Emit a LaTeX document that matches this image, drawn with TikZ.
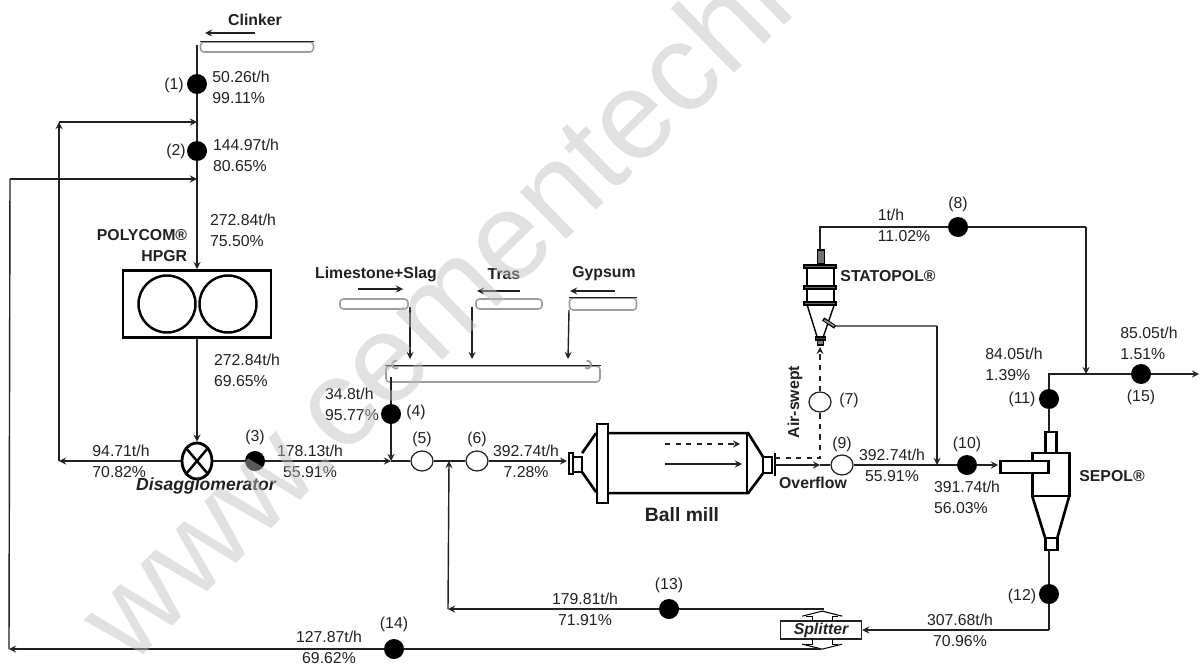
\documentclass[tikz,border=0pt]{standalone}
\usepackage{fontspec}
\setmainfont{Liberation Sans}
\usetikzlibrary{arrows, positioning, shapes.geometric}
\definecolor{inkgray}{rgb}{0.13, 0.13, 0.13}
\definecolor{beltgray}{rgb}{0.62, 0.62, 0.62}
\tikzstyle{flowval} = [align=left, inner sep=0pt, font=\fontsize{9}{12}\selectfont]
\tikzstyle{tagnum} = [inner sep=0pt, font=\fontsize{9}{12}\selectfont]
\tikzstyle{titletext} = [align=right, inner sep=0pt, font=\bfseries\fontsize{9}{12}\selectfont]
\tikzstyle{marker} = [circle, fill=black, inner sep=0pt, minimum size=0.4cm]
\tikzstyle{valve} = [ellipse, draw=inkgray, fill=white, line width=0.7pt, inner sep=0pt, minimum width=0.44cm, minimum height=0.4cm]
\tikzstyle{roll} = [circle, draw=black, line width=1.4pt, inner sep=0pt, minimum size=1.14cm]
\tikzstyle{belt} = [rectangle, rounded corners=2pt, draw=beltgray, fill=white, line width=0.9pt, inner sep=0pt, minimum height=0.2cm]
\tikzstyle{pipe} = [line width=0.8pt, draw=inkgray]
\tikzstyle{arrow} = [line width=0.8pt, draw=inkgray, ->, >=stealth]
\tikzstyle{equip} = [line width=1.5pt, draw=black]
\tikzstyle{pix} = [x=0.02cm, y=-0.02cm]
\tikzstyle{anchorpt} = [coordinate]

\begin{document}
\begin{tikzpicture}[node distance=1cm, every node/.style={text=inkgray}]

\path[use as bounding box, clip] (0,0) rectangle (24,-13.28);

\node (m1) [marker] at (3.94,-1.68) {};
\node (lineTop) [anchorpt, above of=m1, yshift=-0.22cm] {};
\node (tag1) [tagnum, left of=m1, xshift=0.54cm, yshift=-0.02cm] {(1)};
\node (val1) [flowval, right of=m1, xshift=-0.12cm, yshift=-0.06cm] {50.26t/h\\99.11\%};

\node (beltClinker) [belt, right of=m1, xshift=0.2cm, yshift=0.74cm, minimum width=2.26cm] {};
\draw[pipe] (beltClinker.north west) -- (beltClinker.north east);
\node (clinker) [titletext, above of=beltClinker, xshift=-0.04cm, yshift=-0.46cm] {Clinker};
\node (clinkerA) [anchorpt, below of=clinker, yshift=0.74cm] {};
\node (clinkerB) [anchorpt, left of=clinkerA] {};
\draw[arrow] (clinkerA) -- (clinkerB);

\node (m2) [marker, below of=m1, yshift=-0.34cm] {};
\node (junc1) [anchorpt, below of=m1, yshift=0.24cm] {};
\node (junc2) [anchorpt, below of=m2, yshift=0.44cm] {};
\node (tag2) [tagnum, left of=m2, xshift=0.58cm] {(2)};
\node (val2) [flowval, right of=m2, xshift=-0.02cm, yshift=-0.08cm] {144.97t/h\\80.65\%};

\node (hpgr) [rectangle, draw=black, line width=1.6pt, below of=m2, yshift=-2.06cm, minimum width=2.96cm, minimum height=1.34cm] {};
\node (rollA) [roll, left of=hpgr, xshift=0.4cm] {};
\node (rollB) [roll, right of=hpgr, xshift=-0.38cm] {};
\node (polycom) [titletext, left of=hpgr, xshift=-0.1cm, yshift=1.16cm] {POLYCOM®\\HPGR};
\node (val272a) [flowval, right of=hpgr, xshift=-0.08cm, yshift=1.48cm] {272.84t/h\\75.50\%};
\node (val272b) [flowval, right of=hpgr, yshift=-1.32cm] {272.84t/h\\69.65\%};

\draw[pipe] (lineTop) -- (m1);
\draw[pipe] (m1) -- (m2);
\draw[arrow] (m2) -- (hpgr);

\node (disagg) [ellipse, draw=black, line width=1.6pt, inner sep=0pt, below of=hpgr, yshift=-2.14cm, minimum width=0.6cm, minimum height=0.72cm] {};
\draw[line width=1.4pt] (disagg.north west) -- (disagg.south east);
\draw[line width=1.4pt] (disagg.north east) -- (disagg.south west);
\node (disaggtext) [titletext, font=\bfseries\itshape\fontsize{10}{12}\selectfont, below of=disagg, xshift=0.18cm, yshift=0.5cm] {Disagglomerator};
\draw[arrow] (hpgr) -- (disagg);

\node (recA) [anchorpt, left of=disagg, xshift=-1.76cm] {};
\node (recB) [anchorpt, left of=junc1, xshift=-1.76cm] {};
\node (val94) [flowval, left of=disagg, xshift=-0.52cm] {94.71t/h\\70.82\%};
\draw[arrow] (disagg) -- (recA);
\draw[arrow] (recA) -- (recB);
\draw[arrow] (recB) -- (junc1);

\node (m3) [marker, right of=disagg, xshift=0.16cm] {};
\node (tag3) [tagnum, above of=m3, yshift=-0.52cm] {(3)};
\node (val178) [flowval, align=center, right of=m3, xshift=0.1cm] {178.13t/h\\55.91\%};
\node (junc3) [anchorpt, right of=m3, xshift=1.72cm] {};
\draw[pipe] (disagg) -- (m3);
\draw[arrow] (m3) -- (junc3);

\node (m4) [marker, above of=junc3, yshift=-0.06cm] {};
\node (beltOut) [anchorpt, above of=m4, yshift=-0.26cm] {};
\node (tag4) [tagnum, right of=m4, xshift=-0.5cm, yshift=0.04cm] {(4)};
\node (val34) [flowval, left of=m4, xshift=0.22cm, yshift=0.2cm] {34.8t/h\\95.77\%};

\node (beltMain) [belt, right of=m4, xshift=1.04cm, yshift=0.8cm, minimum width=4.28cm, minimum height=0.32cm] {};
\draw[pipe] (beltMain.north west) -- (beltMain.north east);
\draw[pipe] (beltOut) -- (m4);
\draw[arrow] (m4) -- (junc3);
\node (beltLime) [belt, left of=beltMain, xshift=-1.38cm, yshift=1.4cm, minimum width=1.36cm] {};
\node (beltTras) [belt, right of=beltMain, xshift=-0.68cm, yshift=1.4cm, minimum width=1.32cm] {};
\node (beltGyp) [belt, right of=beltMain, xshift=1.2cm, yshift=1.4cm, minimum width=1.34cm, minimum height=0.24cm] {};
\draw[pipe] (beltGyp.north west) -- (beltGyp.north east);

\node (lime) [titletext, above of=beltLime, xshift=0.04cm, yshift=-0.4cm] {Limestone+Slag};
\node (tras) [titletext, above of=beltTras, xshift=-0.1cm, yshift=-0.4cm] {Tras};
\node (gypsum) [titletext, above of=beltGyp, xshift=0.02cm, yshift=-0.4cm] {Gypsum};

\node (limeA) [anchorpt, below of=lime, xshift=-0.36cm, yshift=0.7cm] {};
\node (limeB) [anchorpt, right of=limeA, xshift=-0.1cm] {};
\node (trasA) [anchorpt, below of=tras, xshift=0.32cm, yshift=0.66cm] {};
\node (trasB) [anchorpt, left of=trasA, xshift=0.14cm] {};
\node (gypA) [anchorpt, below of=gypsum, xshift=0.22cm, yshift=0.66cm] {};
\node (gypB) [anchorpt, left of=gypA, xshift=0.1cm] {};
\draw[arrow] (limeA) -- (limeB);
\draw[arrow] (trasA) -- (trasB);
\draw[arrow] (gypA) -- (gypB);

\node (limeOut) [anchorpt, right of=beltLime, xshift=-0.28cm, yshift=-0.06cm] {};
\node (limeIn) [anchorpt, below of=limeOut, yshift=-0.04cm] {};
\node (trasOut) [anchorpt, left of=beltTras, xshift=0.26cm, yshift=-0.06cm] {};
\node (trasIn) [anchorpt, below of=trasOut, yshift=-0.04cm] {};
\node (gypOut) [anchorpt, left of=beltGyp, xshift=0.32cm, yshift=-0.12cm] {};
\node (gypIn) [anchorpt, below of=gypOut, xshift=-0.02cm, yshift=0.02cm] {};
\draw[arrow] (limeOut) -- (limeIn);
\draw[arrow] (trasOut) -- (trasIn);
\draw[arrow] (gypOut) -- (gypIn);

\node (v5) [valve, right of=junc3, xshift=-0.38cm] {};
\node (tag5) [tagnum, above of=v5, yshift=-0.56cm] {(5)};
\node (v6) [valve, right of=v5, xshift=0.1cm] {};
\node (tag6) [tagnum, above of=v6, yshift=-0.56cm] {(6)};
\node (junc4) [anchorpt, right of=v5, xshift=-0.46cm] {};
\node (val392a) [flowval, align=center, right of=v6, xshift=-0.02cm] {392.74t/h\\7.28\%};
\node (millIn) [anchorpt, right of=v6, xshift=0.8cm] {};
\draw[pipe] (junc3) -- (v5);
\draw[pipe] (v5) -- (v6);
\draw[arrow] (v6) -- (millIn);

\begin{scope}[pix]
\draw[equip, fill=white] (569,453) rectangle (573,474);
\draw[equip] (573,457) rectangle (582,472);
\draw[equip] (582,453) -- (596,433);
\draw[equip] (582,472) -- (596,492);
\draw[equip, fill=white] (597,424) rectangle (608,503);
\draw[equip] (608,433) -- (748,433) -- (763,457);
\draw[equip] (608,493) -- (748,493) -- (763,473);
\draw[line width=1pt] (747,433) -- (747,493);
\draw[equip] (763,457) rectangle (772,473);
\draw[equip] (775,453) -- (775,476);
\end{scope}

\node (millDashA) [anchorpt, right of=millIn, xshift=0.96cm, yshift=0.34cm] {};
\node (millDashB) [anchorpt, right of=millDashA, xshift=0.5cm] {};
\draw[arrow, dashed] (millDashA) -- (millDashB);
\node (millFlowA) [anchorpt, right of=millIn, xshift=0.96cm, yshift=-0.06cm] {};
\node (millFlowB) [anchorpt, right of=millFlowA, xshift=0.54cm] {};
\draw[arrow] (millFlowA) -- (millFlowB);
\node (ballmill) [titletext, font=\bfseries\fontsize{11}{13}\selectfont, right of=millIn, xshift=1.3cm, yshift=-1.08cm] {Ball mill};

\node (millOut) [anchorpt, right of=millIn, xshift=3.16cm, yshift=-0.08cm] {};
\node (junc9) [anchorpt, right of=millOut, xshift=-0.1cm] {};
\node (v9) [valve, right of=junc9, xshift=-0.56cm] {};
\node (tag9) [tagnum, above of=v9, yshift=-0.58cm] {(9)};
\node (val392b) [flowval, align=center, right of=v9] {392.74t/h\\55.91\%};
\node (m10) [marker, right of=v9, xshift=1.5cm] {};
\node (tag10) [tagnum, above of=m10, yshift=-0.58cm] {(10)};
\node (val391) [flowval, below of=m10, yshift=0.36cm] {391.74t/h\\56.03\%};
\node (junc10) [anchorpt, left of=m10, xshift=0.4cm] {};
\node (sepIn) [anchorpt, right of=m10, xshift=-0.38cm] {};
\node (overflow) [titletext, below of=junc9, xshift=-0.14cm, yshift=0.64cm] {Overflow};
\draw[arrow] (millOut) -- (junc9);
\draw[pipe] (junc9) -- (v9);
\draw[pipe] (v9) -- (m10);
\draw[arrow] (m10) -- (sepIn);

\node (v7) [valve, above of=junc9, yshift=0.26cm] {};
\node (tag7) [tagnum, right of=v7, xshift=-0.42cm, yshift=0.04cm] {(7)};
\node (airsweptPos) [anchorpt, left of=v7, xshift=0.5cm] {};
\node (airswept) [titletext, rotate=90] at (airsweptPos) {Air-swept};
\node (dashA) [anchorpt, above of=millOut, yshift=-0.86cm] {};
\node (dashB) [anchorpt, right of=dashA, xshift=-0.1cm] {};
\node (statIn) [anchorpt, above of=v7, yshift=0.1cm] {};
\draw[pipe, dashed] (dashA) -- (dashB) -- (v7);
\draw[arrow, dashed] (v7) -- (statIn);

\begin{scope}[pix]
\draw[line width=0.7pt, fill=black!55] (817,250) rectangle (824,264);
\draw[line width=0.8pt] (807,266) -- (807,304);
\draw[line width=0.8pt] (834,266) -- (834,304);
\draw[line width=0.8pt, fill=black!60] (804,265) rectangle (836,268);
\draw[line width=0.8pt, fill=black!60] (804,286) rectangle (836,289);
\draw[line width=0.8pt, fill=black!60] (804,302) rectangle (836,305);
\draw[line width=0.8pt] (807,305) -- (817,337);
\draw[line width=0.8pt] (834,305) -- (823,337);
\draw[line width=0.7pt, fill=black!70] (815,337) rectangle (825,340);
\draw[line width=0.7pt, fill=black!50] (817,340) rectangle (823,345);
\draw[line width=2.2pt] (823,319) -- (835,327);
\draw[line width=1pt, black!45] (824,320) -- (834,326);
\end{scope}

\node (statOut) [anchorpt, above of=statIn, yshift=0.94cm] {};
\node (statSide) [anchorpt, right of=statIn, xshift=-0.7cm, yshift=0.42cm] {};
\node (sideCorner) [anchorpt, above of=junc10, yshift=1.78cm] {};
\node (statopol) [titletext, right of=statOut, xshift=0.36cm, yshift=-0.52cm] {STATOPOL®};
\draw[pipe] (statSide) -- (sideCorner);
\draw[arrow] (sideCorner) -- (junc10);

\node (statCorner) [anchorpt, above of=statOut, yshift=-0.54cm] {};
\node (m8) [marker, right of=statCorner, xshift=1.76cm] {};
\node (tag8) [tagnum, above of=m8, yshift=-0.54cm] {(8)};
\node (val1t) [flowval, left of=m8, xshift=-0.08cm, yshift=0.04cm] {1t/h\\11.02\%};
\node (corner8) [anchorpt, right of=m8, xshift=1.56cm] {};
\node (junc15) [anchorpt, below of=corner8, yshift=-1.94cm] {};
\draw[pipe] (statOut) -- (statCorner) -- (m8);
\draw[pipe] (m8) -- (corner8);
\draw[arrow] (corner8) -- (junc15);

\node (m15) [marker, right of=junc15, xshift=0.1cm] {};
\node (tag15) [tagnum, below of=m15, yshift=0.54cm] {(15)};
\node (val85) [flowval, above of=m15, xshift=0.16cm, yshift=-0.38cm] {85.05t/h\\1.51\%};
\node (outEnd) [anchorpt, right of=m15, xshift=0.16cm] {};
\node (corner11) [anchorpt, left of=junc15, xshift=0.26cm] {};
\node (m11) [marker, below of=corner11, yshift=0.5cm] {};
\node (tag11) [tagnum, left of=m11, xshift=0.46cm] {(11)};
\node (val84) [flowval, left of=corner11, xshift=0.3cm, yshift=0.2cm] {84.05t/h\\1.39\%};
\node (sepTop) [anchorpt, below of=m11, yshift=0.34cm] {};
\draw[pipe] (sepTop) -- (m11);
\draw[pipe] (m11) -- (corner11) -- (m15);
\draw[arrow] (m15) -- (outEnd);

\begin{scope}[pix]
\draw[equip] (1045,432) rectangle (1056,453);
\draw[equip, fill=white] (1032,453) rectangle (1069,496);
\draw[equip, fill=white] (1000,461) rectangle (1048,473);
\draw[equip] (1032,496) -- (1045,538);
\draw[equip] (1069,496) -- (1057,538);
\draw[equip] (1045,538) rectangle (1057,550);
\end{scope}

\node (sepol) [titletext, right of=sepTop, xshift=0.26cm, yshift=-0.88cm] {SEPOL®};
\node (sepBot) [anchorpt, below of=sepTop, yshift=-1.36cm] {};
\node (m12) [marker, below of=sepBot, yshift=0.12cm] {};
\node (tag12) [tagnum, left of=m12, xshift=0.46cm, yshift=-0.04cm] {(12)};
\node (corner12) [anchorpt, below of=m12, yshift=0.28cm] {};
\node (splitter) [rectangle, draw=inkgray, line width=0.8pt, inner sep=0pt, left of=corner12, xshift=-3.56cm, minimum width=1.62cm, minimum height=0.36cm, font=\bfseries\itshape\fontsize{9}{12}\selectfont] {Splitter};
\node (val307) [flowval, align=center, left of=corner12, xshift=-0.78cm] {307.68t/h\\70.96\%};
\draw[pipe] (sepBot) -- (m12);
\draw[pipe] (m12) -- (corner12);
\draw[arrow] (corner12) -- (splitter);

\begin{scope}[pix]
\draw[line width=0.6pt] (802,616) -- (822,611) -- (842,616);
\draw[line width=0.6pt] (806,616) -- (812,616) -- (812,621);
\draw[line width=0.6pt] (838,616) -- (832,616) -- (832,621);
\draw[line width=0.6pt] (802,644) -- (822,649) -- (842,644);
\draw[line width=0.6pt] (806,644) -- (812,644) -- (812,639);
\draw[line width=0.6pt] (838,644) -- (832,644) -- (832,639);
\end{scope}

\node (splitTop) [anchorpt, above of=splitter, xshift=0.06cm, yshift=-0.58cm] {};
\node (m13) [marker, left of=splitTop, xshift=-2.1cm] {};
\node (tag13) [tagnum, above of=m13, yshift=-0.52cm] {(13)};
\node (val179) [flowval, align=center, left of=m13, xshift=-0.68cm] {179.81t/h\\71.91\%};
\node (recUp) [anchorpt, left of=m13, xshift=-3.42cm] {};
\draw[pipe] (splitTop) -- (m13);
\draw[arrow] (m13) -- (recUp);
\draw[arrow] (recUp) -- (junc4);

\node (splitBot) [anchorpt, below of=splitter, yshift=0.62cm] {};
\node (m14) [marker, left of=splitBot, xshift=-7.54cm] {};
\node (tag14) [tagnum, above of=m14, yshift=-0.5cm] {(14)};
\node (val127) [flowval, align=center, left of=m14, xshift=-0.3cm, yshift=0.04cm] {127.87t/h\\69.62\%};
\node (botEnd) [anchorpt, left of=m14, xshift=-6.7cm] {};
\node (topEnd) [anchorpt, left of=junc2, xshift=-2.74cm] {};
\draw[pipe] (splitBot) -- (m14);
\draw[arrow] (m14) -- (botEnd);
\draw[pipe] (botEnd) -- (topEnd);
\draw[arrow] (topEnd) -- (junc2);

\begin{scope}[pix]
\draw[beltgray, line width=1pt] (398,368) arc (60:280:4);
\draw[beltgray, line width=1pt] (585,368) arc (120:-100:4);
\end{scope}

\node (watermark) [anchor=base west, rotate=44.5, inner sep=0pt, text=black!25, text opacity=0.47, font=\fontsize{71}{71}\selectfont] at (2.6,-13.36) {www.cementechn};

\end{tikzpicture}
\end{document}
